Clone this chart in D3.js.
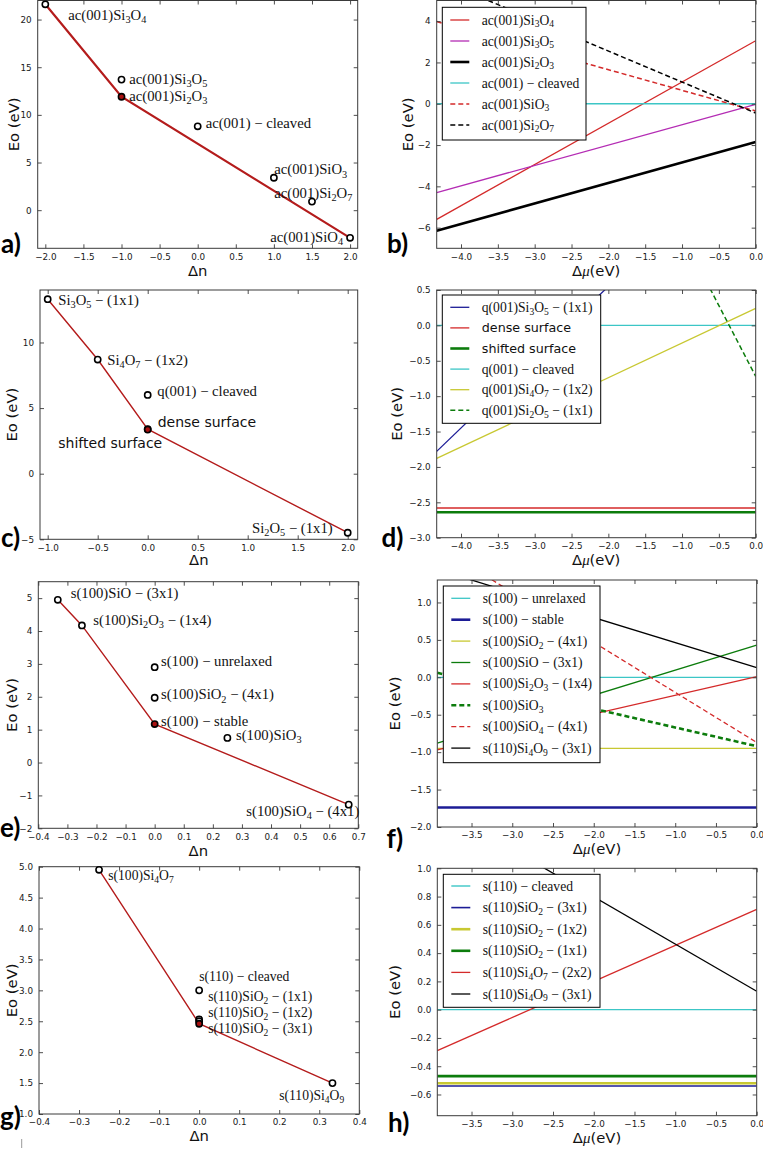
<!DOCTYPE html>
<html><head><meta charset="utf-8">
<script src="https://cdn.jsdelivr.net/npm/d3@7"></script>
<style>body{margin:0;background:#fff}</style></head>
<body><script>
// ---------------- DATA ----------------
// panel a
const aDn = [-2, -1, -1, 0, 1, 1.5, 2];
const aEo = [21.6, 13.7, 11.9, 8.8, 3.4, 0.9, -2.9];
const aNames = ["ac(001)Si_3O_4","ac(001)Si_3O_5","ac(001)Si_2O_3","ac(001) − cleaved","ac(001)SiO_3","ac(001)Si_2O_7","ac(001)SiO_4"];
const aStable = ["ac(001)Si_2O_3"];
const aHullDn = [-2, -1, 2];
const aHullEo = [21.6, 11.9, -2.9];
const aXTicks = [-2,-1.5,-1,-0.5,0,0.5,1,1.5,2];
const aYTicks = [0,5,10,15,20];
// panel b
const bNames = ["ac(001)Si_3O_4","ac(001)Si_3O_5","ac(001)Si_2O_3","ac(001) − cleaved","ac(001)SiO_3","ac(001)Si_2O_7"];
const bMu = [-4.33, 0];
const bAtLeft = [-5.6, -4.3, -6.15, 0, 3.98, 6.05];
const bAtZero = [3.05, -0.03, -1.85, 0, -0.35, -0.45];
const bXTicks = [-4,-3.5,-3,-2.5,-2,-1.5,-1,-0.5,0];
const bYTicks = [-6,-4,-2,0,2,4];
// panel c
const cDn = [-1, -0.5, 0, 0, 0, 2];
const cEo = [13.3, 8.7, 6.0, 3.4, 3.36, -4.5];
const cNames = ["Si_3O_5 − (1x1)","Si_4O_7 − (1x2)","q(001) − cleaved","dense surface","shifted surface","Si_2O_5 − (1x1)"];
const cStable = ["shifted surface"];
const cHullDn = [-1, -0.5, 0, 2];
const cHullEo = [13.3, 8.7, 3.4, -4.5];
const cXTicks = [-1,-0.5,0,0.5,1,1.5,2];
const cYTicks = [-5,0,5,10];
// panel d
const dNames = ["q(001)Si_3O_5 − (1x1)","dense surface","shifted surface","q(001) − cleaved","q(001)Si_4O_7 − (1x2)","q(001)Si_2O_5 − (1x1)"];
const dMu = [-4.33, 0];
const dAtLeft = [-1.78, -2.58, -2.64, 0, -1.88, 7.94];
const dAtZero = [2.55, -2.58, -2.64, 0, 0.24, -0.72];
const dXTicks = [-4,-3.5,-3,-2.5,-2,-1.5,-1,-0.5,0];
const dYTicks = [-3,-2.5,-2,-1.5,-1,-0.5,0,0.5];
// panel e
const eDn = [-0.333, -0.25, 0, 0, 0, 0.25, 0.667];
const eEo = [4.95, 4.17, 2.9, 1.97, 1.17, 0.75, -1.28];
const eNames = ["s(100)SiO − (3x1)","s(100)Si_2O_3 − (1x4)","s(100) − unrelaxed","s(100)SiO_2 − (4x1)","s(100) − stable","s(100)SiO_3","s(100)SiO_4 − (4x1)"];
const eStable = ["s(100) − stable"];
const eHullDn = [-0.333, -0.25, 0, 0.667];
const eHullEo = [4.95, 4.17, 1.17, -1.28];
const eXTicks = [-0.4,-0.3,-0.2,-0.1,0,0.1,0.2,0.3,0.4,0.5,0.6,0.7];
const eYTicks = [-2,-1,0,1,2,3,4,5];
// panel f
const fNames = ["s(100) − unrelaxed","s(100) − stable","s(100)SiO_2 − (4x1)","s(100)SiO − (3x1)","s(100)Si_2O_3 − (1x4)","s(100)SiO_3","s(100)SiO_4 − (4x1)","s(110)Si_4O_9 − (3x1)"];
const fMu = [-3.92, 0];
const fAtLeft = [0, -1.74, -0.95, -0.88, -0.97, 0.06, 1.75, 1.44];
const fAtZero = [0, -1.74, -0.95, 0.43, 0.01, -0.92, -0.87, 0.13];
const fXTicks = [-3.5,-3,-2.5,-2,-1.5,-1,-0.5,0];
const fYTicks = [-2,-1.5,-1,-0.5,0,0.5,1];
// panel g
const gDn = [-0.25, 0, 0, 0, 0, 0.333];
const gEo = [4.95, 3.0, 2.53, 2.50, 2.46, 1.5];
const gNames = ["s(100)Si_4O_7","s(110) − cleaved","s(110)SiO_2 − (1x1)","s(110)SiO_2 − (1x2)","s(110)SiO_2 − (3x1)","s(110)Si_4O_9"];
const gStable = ["s(110)SiO_2 − (3x1)"];
const gHullDn = [-0.25, 0, 0.333];
const gHullEo = [4.95, 2.46, 1.5];
const gXTicks = [-0.4,-0.3,-0.2,-0.1,0,0.1,0.2,0.3,0.4];
const gYTicks = [1,1.5,2,2.5,3,3.5,4,4.5,5];
// panel h
const hNames = ["s(110) − cleaved","s(110)SiO_2 − (3x1)","s(110)SiO_2 − (1x2)","s(110)SiO_2 − (1x1)","s(110)Si_4O_7 − (2x2)","s(110)Si_4O_9 − (3x1)"];
const hMu = [-3.92, 0];
const hAtLeft = [0, -0.54, -0.52, -0.47, -0.29, 1.44];
const hAtZero = [0, -0.54, -0.52, -0.47, 0.71, 0.13];
const hXTicks = [-3.5,-3,-2.5,-2,-1.5,-1,-0.5,0];
const hYTicks = [-0.6,-0.4,-0.2,0,0.2,0.4,0.6,0.8,1.0];

// ---------------- STYLES / LAYOUT ----------------
const RED="#d42a2a", MAG="#b42cb4", BLK="#000", CYA="#3cc6c6", YEL="#c8c832", GRN="#0c7c0c", NAV="#1c1c96";
const bColors=[RED,MAG,BLK,CYA,RED,BLK], bWidths=[1.3,1.3,2.6,1.3,1.5,1.5], bDash=[null,null,null,null,"5,3","5,3"];
const dColors=[NAV,RED,GRN,CYA,YEL,GRN], dWidths=[1.3,1.3,2.6,1.3,1.3,1.5], dDash=[null,null,null,null,null,"5,3"];
const dSans=[0,1,1,0,0,0];
const fColors=[CYA,NAV,YEL,GRN,RED,GRN,RED,BLK], fWidths=[1.3,2.6,1.3,1.3,1.3,2.6,1.3,1.3], fDash=[null,null,null,null,null,"5,3","5,3",null];
const hColors=[CYA,NAV,YEL,GRN,RED,BLK], hWidths=[1.4,1.6,2.6,2.6,1.3,1.3], hDash=[null,null,null,null,null,null];

const L = {
  a:{l:37.7,r:357.7,t:0.5,b:248.3,x:[-2.1,2.1],y:[-4,22],ylx:19,xlab:"n",xly:275.5,let:"a)",lx:1,ly:252.7,fs:14.7},
  b:{l:436.7,r:755.7,t:0.5,b:248.3,x:[-4.33,0],y:[-7,5],ylx:413,xlab:"mu",xly:276,let:"b)",lx:387,ly:252.7},
  c:{l:40,r:357.7,t:290,b:539.3,x:[-1.077,2.1],y:[-5,14],ylx:17,xlab:"n",xly:565,let:"c)",lx:1,ly:546.7,fs:14.7},
  d:{l:436.7,r:755.7,t:290,b:537.7,x:[-4.33,0],y:[-3,0.5],ylx:402,xlab:"mu",xly:565,let:"d)",lx:381.5,ly:546.7},
  e:{l:38.3,r:358.3,t:581.7,b:828.3,x:[-0.4,0.7],y:[-2,5.5],ylx:17,xlab:"n",xly:856,let:"e)",lx:0,ly:836.7,fs:14.7},
  f:{l:437.3,r:756.7,t:580,b:827,x:[-3.92,0],y:[-2,1.3],ylx:400,xlab:"mu",xly:854,let:"f)",lx:386.5,ly:848.3},
  g:{l:39,r:359.3,t:866.7,b:1114,x:[-0.4,0.4],y:[1,5],ylx:17,xlab:"n",xly:1141,let:"g)",lx:0,ly:1126,fs:13.6},
  h:{l:437.3,r:756.7,t:868.3,b:1115.7,x:[-3.92,0],y:[-0.75,1.0],ylx:400,xlab:"mu",xly:1143,let:"h)",lx:388,ly:1131.7}
};
// label offsets [dx, dy, anchor]
const aLab=[[23,15.7,"start"],[7.8,4.4,"start"],[7.8,4.2,"start"],[8,1.7,"start"],[0.4,-3.3,"start"],[-37.7,-3.6,"start"],[-7,3.7,"end"]];
const cLab=[[10.6,5.5,"start"],[9.6,5.5,"start"],[9.6,1,"start"],[10,-1.6,"start"],[-89.4,18.4,"start"],[-15,0.5,"end"]];
const eLab=[[12.9,-1.8,"start"],[11.4,-0.4,"start"],[6.3,-1.2,"start"],[6.3,1.7,"start"],[6.3,1.9,"start"],[8.6,2.1,"start"],[10.6,11.4,"end"]];
const gLab=[[9.2,10.2,"start"],[0,-9.4,"start"],[9,-18,"start"],[9,-4.5,"start"],[9,9,"start"],[-53.2,17,"start"]];
const legB={x:442.3,y:7.3,w:143.7,h:132.7,r0:20,dr:21};
const legD={x:442.3,y:295,w:158.4,h:128.3,r0:307.3,dr:20.6};
const legF={x:443.3,y:586,w:156.7,h:176.7,r0:598.3,dr:21.4};
const legH={x:443.3,y:874.3,w:156.7,h:133,r0:886,dr:21.6};

const SERIF="'Liberation Serif','DejaVu Serif',serif", SANS="'DejaVu Sans',sans-serif";
const svg=d3.select("body").append("svg").attr("width",763).attr("height",1150);

function rich(sel, str, size){
  const parts=[]; let cur=""; let i=0;
  while(i<str.length){
    if(str[i]==="_"){ if(cur) parts.push({t:cur,s:false}); cur=""; parts.push({t:str[i+1],s:true}); i+=2; }
    else { cur+=str[i]; i++; }
  }
  if(cur) parts.push({t:cur,s:false});
  let down=false; const sh=size*0.22;
  parts.forEach(p=>{
    const ts=sel.append("tspan").text(p.t);
    if(p.s){ ts.attr("font-size",size*0.7); if(!down){ts.attr("dy",sh);} down=true; }
    else { if(down){ts.attr("dy",-sh);} down=false; }
  });
}

function setup(k){
  const c=L[k];
  const x=d3.scaleLinear().domain(c.x).range([c.l,c.r]);
  const y=d3.scaleLinear().domain(c.y).range([c.b,c.t]);
  svg.append("clipPath").attr("id","clip"+k).append("rect")
    .attr("x",c.l).attr("y",c.t).attr("width",c.r-c.l).attr("height",c.b-c.t);
  const plot=svg.append("g").attr("clip-path",`url(#clip${k})`);
  return {c,x,y,plot};
}

function axes(P, xt, yt, fx, fy){
  const {c,x,y}=P;
  const g=svg.append("g");
  const style=s=>{ s.select(".domain").remove(); s.selectAll("line").attr("stroke","#3a3a3a").attr("stroke-width",0.9);
    s.selectAll("text").attr("font-family",SANS).attr("font-size",8.8).attr("fill","#1a1a1a"); };
  g.append("g").attr("transform",`translate(0,${c.b})`).call(d3.axisBottom(x).tickValues(xt).tickFormat(d3.format(fx)).tickSize(-4).tickSizeOuter(0).tickPadding(5)).call(style);
  g.append("g").attr("transform",`translate(0,${c.t})`).call(d3.axisTop(x).tickValues(xt).tickFormat(()=>"").tickSize(-4).tickSizeOuter(0)).call(style);
  g.append("g").attr("transform",`translate(${c.l},0)`).call(d3.axisLeft(y).tickValues(yt).tickFormat(d3.format(fy)).tickSize(-4).tickSizeOuter(0).tickPadding(6)).call(style);
  g.append("g").attr("transform",`translate(${c.r},0)`).call(d3.axisRight(y).tickValues(yt).tickFormat(()=>"").tickSize(-4).tickSizeOuter(0)).call(style);
  g.append("rect").attr("x",c.l).attr("y",c.t).attr("width",c.r-c.l).attr("height",c.b-c.t)
    .attr("fill","none").attr("stroke","#3a3a3a").attr("stroke-width",1);
  svg.append("text").attr("transform",`translate(${c.ylx},${(c.t+c.b)/2}) rotate(-90)`)
    .attr("text-anchor","middle").attr("font-family",SANS).attr("font-size",14.8).attr("fill","#111").text("Eo (eV)");
  const xl=svg.append("text").attr("x",(c.l+c.r)/2).attr("y",c.xly).attr("text-anchor","middle")
    .attr("font-family",SANS).attr("font-size",14.8).attr("fill","#111");
  if(c.xlab==="n"){ xl.text("Δn"); }
  else { xl.append("tspan").text("Δ"); xl.append("tspan").attr("font-family",SERIF).attr("font-style","italic").text("μ"); xl.append("tspan").text("(eV)"); }
  svg.append("text").attr("x",c.lx).attr("y",c.ly).attr("font-family","Lato,'Open Sans',sans-serif")
    .attr("font-weight","bold").attr("font-size",26).attr("fill","#000").text(c.let);
}

function scatterPanel(k, dn, eo, names, stable, hullDn, hullEo, lab, xt, yt, fx, fy, hullW){
  const P=setup(k);
  const {c,x,y,plot}=P;
  const hull=hullDn.map((d,i)=>[d,hullEo[i]]);
  plot.append("path").attr("d",d3.line().x(d=>x(d[0])).y(d=>y(d[1]))(hull))
    .attr("fill","none").attr("stroke","#b41c1c").attr("stroke-width",hullW);
  axes(P,xt,yt,fx,fy);
  names.forEach((n,i)=>{
    const st=stable.includes(n);
    svg.append("circle").attr("cx",x(dn[i])).attr("cy",y(eo[i])).attr("r",3.1)
      .attr("fill",st?"#a81010":"#fff").attr("stroke","#000").attr("stroke-width",1.6);
  });
  names.forEach((n,i)=>{
    const o=lab[i];
    const sans=(n==="dense surface"||n==="shifted surface");
    const t=svg.append("text").attr("x",x(dn[i])+o[0]).attr("y",y(eo[i])+o[1]).attr("text-anchor",o[2])
      .attr("font-family",sans?SANS:SERIF).attr("font-size",sans?14:c.fs).attr("fill","#111");
    if(sans) t.text(n); else rich(t,n,c.fs);
  });
}

function linePanel(k, mu, atLeft, atZero, names, colors, widths, dashes, sans, leg, xt, yt, fx, fy){
  const P=setup(k);
  const {x,y,plot}=P;
  names.forEach((n,i)=>{
    plot.append("line").attr("x1",x(mu[0])).attr("y1",y(atLeft[i])).attr("x2",x(mu[1])).attr("y2",y(atZero[i]))
      .attr("stroke",colors[i]).attr("stroke-width",widths[i]).attr("stroke-dasharray",dashes[i]);
  });
  axes(P,xt,yt,fx,fy);
  svg.append("rect").attr("x",leg.x).attr("y",leg.y).attr("width",leg.w).attr("height",leg.h)
    .attr("fill","#fff").attr("stroke","#000").attr("stroke-width",1);
  names.forEach((n,i)=>{
    const cy=leg.r0+i*leg.dr;
    svg.append("line").attr("x1",leg.x+8).attr("x2",leg.x+27).attr("y1",cy).attr("y2",cy)
      .attr("stroke",colors[i]).attr("stroke-width",widths[i]).attr("stroke-dasharray",dashes[i]);
    const s=sans && sans[i];
    const t=svg.append("text").attr("x",leg.x+39.5).attr("y",cy+4.5)
      .attr("font-family",s?SANS:SERIF).attr("font-size",s?12.7:13.6).attr("fill","#111");
    if(s) t.text(n); else rich(t,n,13.6);
  });
}

scatterPanel("a",aDn,aEo,aNames,aStable,aHullDn,aHullEo,aLab,aXTicks,aYTicks,".1f","d",2.2);
linePanel("b",bMu,bAtLeft,bAtZero,bNames,bColors,bWidths,bDash,null,legB,bXTicks,bYTicks,".1f","d");
scatterPanel("c",cDn,cEo,cNames,cStable,cHullDn,cHullEo,cLab,cXTicks,cYTicks,".1f","d",1.4);
linePanel("d",dMu,dAtLeft,dAtZero,dNames,dColors,dWidths,dDash,dSans,legD,dXTicks,dYTicks,".1f",".1f");
scatterPanel("e",eDn,eEo,eNames,eStable,eHullDn,eHullEo,eLab,eXTicks,eYTicks,".1f","d",1.4);
linePanel("f",fMu,fAtLeft,fAtZero,fNames,fColors,fWidths,fDash,null,legF,fXTicks,fYTicks,".1f",".1f");
scatterPanel("g",gDn,gEo,gNames,gStable,gHullDn,gHullEo,gLab,gXTicks,gYTicks,".1f",".1f",1.4);
linePanel("h",hMu,hAtLeft,hAtZero,hNames,hColors,hWidths,hDash,null,legH,hXTicks,hYTicks,".1f",".1f");

svg.append("line").attr("x1",21.7).attr("x2",21.7).attr("y1",1139).attr("y2",1148).attr("stroke","#999").attr("stroke-width",1);
</script></body></html>
